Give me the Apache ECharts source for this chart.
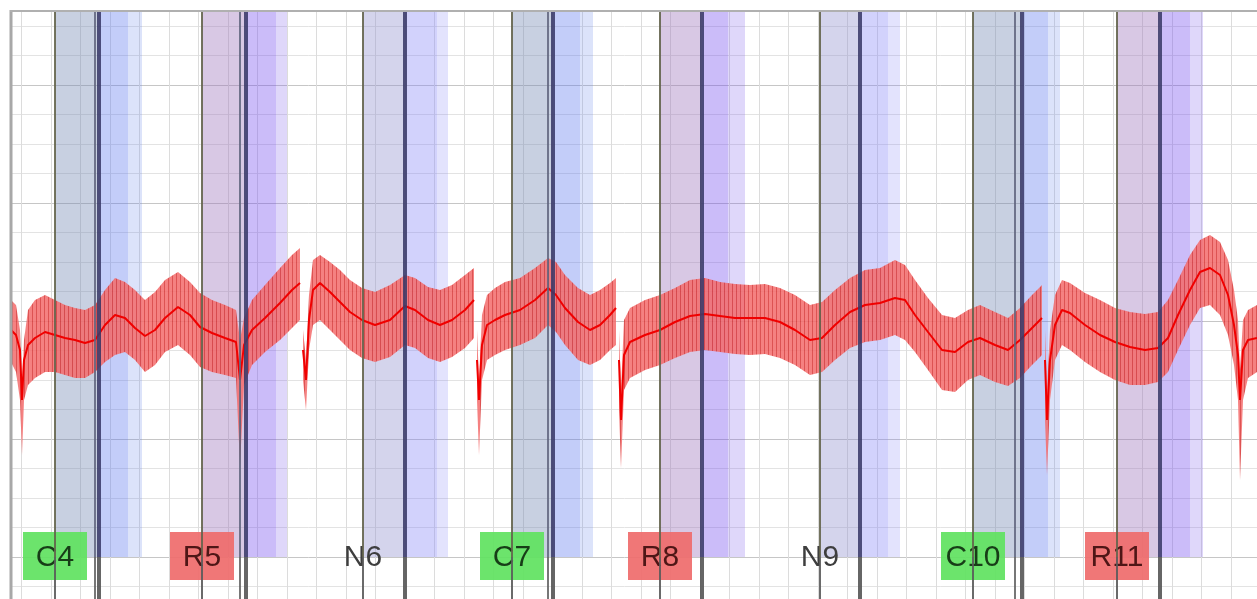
<!DOCTYPE html>
<html><head><meta charset="utf-8">
<script src="https://cdn.jsdelivr.net/npm/echarts@6/dist/echarts.min.js"></script>
<style>html,body{margin:0;padding:0;background:#fff;overflow:hidden;width:1257px;height:599px}
#c{position:absolute;left:-8px;top:-33px;width:1265px;height:708px}</style>
</head><body><div id="c"></div>
<script>
// ---- trial events (time in samples) ----
const trialLabels   = ['C4','R5','N6','C7','R8','N9','C10','R11'];
const trialTypes    = ['C','R','N','C','R','N','C','R'];
const onsetTimes    = [63, 210, 371, 520, 668, 828, 981, 1125];
const cueTimes      = [103, 248, null, 556, null, null, 1023, null];
const responseTimes = [107, 254, 413, 561, 710, 868, 1030, 1168];
const feedbackTimes = [136, 284, 445, 588, 736, 896, 1056, 1198];
const bandEndTimes  = [150, 295, 456, 601, 753, 908, 1068, 1211];

// ---- signal (amplitude, µV); null = gap between segments ----
const signalTime = [19,24,28,30,32,36,43,53,63,73,83,93,103,113,123,133,143,153,163,173,186,198,208,220,233,244,248,252,260,273,288,300,308, 310,
 311,314,317,321,328,338,348,358,370,383,398,413,423,436,448,460,473,482, 484,
 485,487,490,495,503,513,528,543,556,564,573,586,598,608,618,624, 626,
 627,629,632,638,653,668,683,698,713,728,743,758,773,788,803,818,830,843,858,873,888,903,913,923,936,950,963,976,988,1003,1016,1028,1040,1050, 1052,
 1053,1055,1058,1063,1070,1078,1093,1108,1123,1138,1153,1166,1176,1186,1198,1208,1218,1228,1236,1242,1246,1248,1251,1256,1265];
const signalMean = [227,222,207,157,197,212,219,225,222,219,217,214,217,232,242,239,229,221,227,239,250,242,230,224,219,215,177,212,227,239,254,267,274, null,
 207,177,237,267,274,265,255,245,237,232,237,251,247,237,232,237,247,257, null,
 197,157,212,232,237,242,247,257,269,262,249,235,227,232,242,249, null,
 197,137,202,215,222,227,235,241,243,241,239,239,239,235,227,217,219,232,245,252,254,259,257,242,225,207,205,215,219,212,207,217,229,239, null,
 197,137,197,232,247,244,232,222,215,210,207,209,219,242,267,285,289,282,262,232,202,157,207,217,219];
const signalHigh = [257,252,227,172,217,247,257,262,257,252,249,247,252,267,279,275,267,257,265,277,285,275,264,257,252,247,217,239,257,272,289,302,309, null,
 227,197,262,297,302,295,287,277,269,265,272,282,279,270,267,272,282,289, null,
 227,177,242,262,269,275,279,289,299,295,282,269,262,267,274,279, null,
 227,167,237,249,257,262,269,277,279,275,273,272,273,269,262,252,255,267,279,287,289,297,292,277,259,242,239,247,252,245,239,249,262,272, null,
 227,167,227,262,277,274,264,257,249,245,243,245,257,277,302,317,322,315,297,267,237,187,237,247,252];
const signalLow = [195,185,157,102,157,172,179,185,185,182,179,179,185,195,202,205,197,185,192,205,212,202,190,185,182,179,92,172,192,205,217,229,237, null,
 177,147,207,232,237,227,217,207,199,195,200,212,209,199,195,200,209,219, null,
 157,102,177,197,202,207,212,219,232,225,212,197,192,197,207,212, null,
 147,89,167,179,187,192,199,205,207,205,203,202,203,199,192,182,185,197,209,215,217,222,217,205,187,167,165,177,182,175,171,179,192,202, null,
 137,82,157,197,212,207,195,185,177,172,172,175,185,207,232,249,252,242,222,192,157,77,157,179,185];

// ---- axis settings ----
const xMax = 1265, xStep = 29.5;
const yMin = -118, yMax = 590, yStep = 118;

// ---- styles ----
const bandColors = {
  C: ['rgba(118,138,180,0.4)', 'rgba(98,123,238,0.38)', 'rgba(110,140,235,0.24)'],
  R: ['rgba(158,118,188,0.4)', 'rgba(118,80,238,0.38)', 'rgba(130,100,235,0.26)'],
  N: ['rgba(148,148,208,0.4)', 'rgba(138,138,248,0.38)', 'rgba(140,140,245,0.24)']
};
const boxColors  = {C: '#5fe25f', R: '#ef6b6b', N: null};
const textColors = {C: '#173d17', R: '#4e1616', N: '#3e3e3e'};

// build derived tables
const bandData = [];
trialTypes.forEach((tp, i) => {
  bandData.push([onsetTimes[i], responseTimes[i], i, 0]);
  bandData.push([responseTimes[i], feedbackTimes[i], i, 1]);
  bandData.push([feedbackTimes[i], bandEndTimes[i], i, 2]);
});
const segments = [];
let cur = [];
signalTime.forEach((t, i) => {
  if (signalMean[i] == null) { if (cur.length) segments.push(cur); cur = []; }
  else cur.push([t, signalMean[i], signalLow[i], signalHigh[i]]);
});
if (cur.length) segments.push(cur);

// hatch pattern for the envelope
const pc = document.createElement('canvas');
pc.width = 4; pc.height = 4;
const g = pc.getContext('2d');
g.fillStyle = '#f46c6c'; g.fillRect(0, 0, 4, 4);
g.fillStyle = '#d83636'; g.fillRect(0, 0, 1, 4);

function vline(api, t, top, bottom, stroke, w) {
  const a = api.coord([t, top]), b = api.coord([t, bottom]);
  return {type: 'line', shape: {x1: a[0], y1: a[1], x2: b[0], y2: b[1]}, style: {stroke: stroke, lineWidth: w}};
}

// page offset of the chart canvas (it is larger than the window)
const OX = 8, OY = 33;

const chart = echarts.init(document.getElementById('c'), null, {renderer: 'canvas'});
chart.setOption({
  animation: false,
  backgroundColor: '#fff',
  grid: {left: 0, right: 0, top: 0, bottom: 0, show: false},
  xAxis: {type: 'value', min: 0, max: xMax, interval: xStep,
    axisLine: {show: false}, axisTick: {show: false}, axisLabel: {show: false},
    splitLine: {show: true, lineStyle: {color: '#dcdcdc', width: 1}}},
  yAxis: {type: 'value', min: yMin, max: yMax, interval: yStep,
    axisLine: {show: false}, axisTick: {show: false}, axisLabel: {show: false},
    splitLine: {show: true, lineStyle: {color: '#c6c6c6', width: 1}},
    minorTick: {show: false, splitNumber: 4},
    minorSplitLine: {show: true, lineStyle: {color: '#e3e3e3', width: 1}}},
  graphic: [
    {type: 'rect', shape: {x: 0, y: 0, width: OX + 10, height: 708}, style: {fill: '#fff'}, z: 100},
    {type: 'rect', shape: {x: 0, y: 0, width: 1265, height: OY + 10}, style: {fill: '#fff'}, z: 100},
    {type: 'line', shape: {x1: OX + 11, y1: OY + 10, x2: OX + 11, y2: 708}, style: {stroke: '#a8a8a8', lineWidth: 3}, z: 101},
    {type: 'line', shape: {x1: OX + 10, y1: OY + 11, x2: 1265, y2: OY + 11}, style: {stroke: '#b0b0b0', lineWidth: 2}, z: 101}
  ],
  series: [
    { // shaded trial bands
      type: 'custom', z: 2, silent: true,
      data: bandData,
      renderItem: (p, api) => {
        const i = api.value(2), ph = api.value(3);
        const a = api.coord([api.value(0), yMax]), b = api.coord([api.value(1), 0]);
        return {type: 'rect', shape: {x: a[0], y: a[1], width: b[0] - a[0], height: b[1] - a[1]},
          style: {fill: bandColors[trialTypes[i]][ph]}};
      }
    },
    { // label boxes
      type: 'custom', z: 3, silent: true,
      data: onsetTimes.map((t, i) => [t, 0, i]),
      renderItem: (p, api) => {
        const i = api.value(2), c = api.coord([api.value(0), api.value(1)]);
        const tp = trialTypes[i];
        const kids = [];
        if (boxColors[tp]) kids.push({type: 'rect', shape: {x: c[0] - 32, y: c[1] - 25, width: 64, height: 48},
          style: {fill: boxColors[tp], opacity: 0.92}});
        kids.push({type: 'text', style: {text: trialLabels[i], x: c[0], y: c[1] + 1, align: 'center', verticalAlign: 'middle',
          font: '30px "Liberation Sans", Arial, sans-serif', fill: textColors[tp]}});
        return {type: 'group', children: kids};
      }
    },
    { // signal envelope
      type: 'custom', z: 4, silent: true,
      data: segments.map((s, k) => [s[0][0], s[0][1], k]),
      renderItem: (p, api) => {
        const s = segments[api.value(2)];
        const pts = [];
        s.forEach(q => pts.push(api.coord([q[0], q[3]])));
        for (let j = s.length - 1; j >= 0; j--) pts.push(api.coord([s[j][0], s[j][2]]));
        return {type: 'polygon', shape: {points: pts}, style: {fill: {image: pc, repeat: 'repeat'}, opacity: 0.85}};
      }
    },
    { // mean trace
      type: 'line', z: 5, silent: true, symbol: 'none', connectNulls: false,
      data: signalTime.map((t, i) => [t, signalMean[i]]),
      lineStyle: {color: '#f00000', width: 2}
    },
    { // response + cue lines
      type: 'custom', z: 6, silent: true,
      data: responseTimes.map((t, i) => [t, 0, i]),
      renderItem: (p, api) => {
        const i = api.value(2), t = api.value(0);
        const kids = [];
        if (cueTimes[i] != null) {
          kids.push(vline(api, cueTimes[i], yMax, 0, 'rgba(95,100,125,0.85)', 2));
          kids.push(vline(api, cueTimes[i], 0, yMin, 'rgba(95,95,95,0.85)', 2));
        }
        kids.push(vline(api, t, yMax, 0, 'rgba(58,58,105,0.88)', 4));
        kids.push(vline(api, t, 0, yMin, 'rgba(85,85,85,0.9)', 4));
        return {type: 'group', children: kids};
      }
    },
    { // onset lines
      type: 'custom', z: 7, silent: true,
      data: onsetTimes.map((t, i) => [t, 0, i]),
      renderItem: (p, api) => {
        const t = api.value(0);
        return {type: 'group', children: [
          vline(api, t, yMax, 0, 'rgba(100,100,76,0.9)', 2),
          vline(api, t, 0, yMin, 'rgba(90,90,90,0.9)', 2)
        ]};
      }
    }
  ]
});
</script>
</body></html>
